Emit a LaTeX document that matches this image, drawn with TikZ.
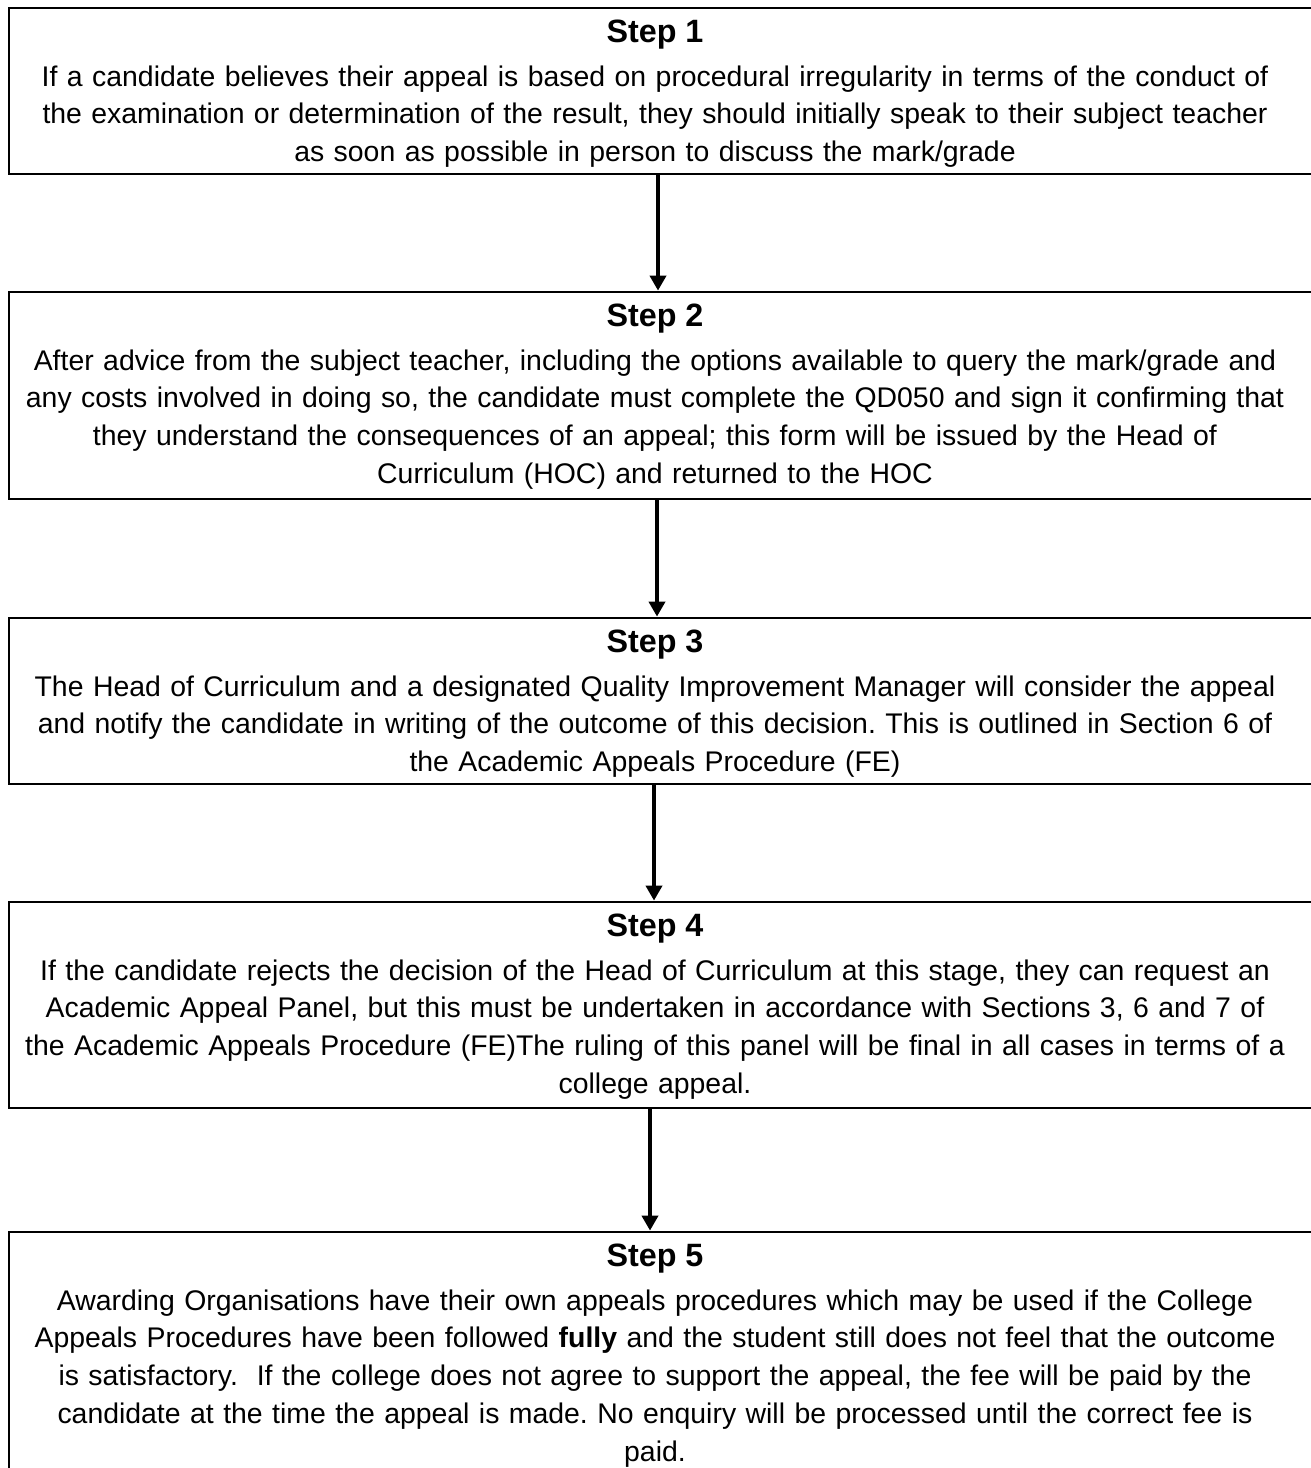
\documentclass[tikz,border=0pt]{standalone}
\usepackage{fontspec}
\setmainfont{Liberation Sans}
\usetikzlibrary{arrows.meta}
\newcommand\bodyfnt{\fontsize{28.4}{37.8}\selectfont\frenchspacing}
\newcommand\titlefnt{\fontsize{32.3}{40}\selectfont\bfseries}
\begin{document}
\begin{tikzpicture}[x=1pt,y=-1pt,
 box/.style={draw, line width=2.6pt, anchor=north west, inner sep=0pt, outer sep=0pt, minimum width=1310pt},
 ttl/.style={font=\titlefnt, anchor=base, inner sep=0pt},
 body/.style={font=\bodyfnt, text width=1300pt, align=center, anchor=base, inner sep=0pt},
 arr/.style={line width=4pt, shorten >=1.4pt, -{Triangle[width=16pt,length=15pt]}}]
\useasboundingbox (0,0) rectangle (1310,1468);
% boxes
\node[box, minimum height=166pt] (b1) at (9,8) {};
\node[box, minimum height=207pt] (b2) at (9,292) {};
\node[box, minimum height=166pt] (b3) at (9,618) {};
\node[box, minimum height=206pt] (b4) at (9,902) {};
\node[box, minimum height=260pt] (b5) at (9,1232) {};
% titles
\node[ttl] (t1) at (655,42) {Step 1};
\node[ttl] (t2) at (655,326) {Step 2};
\node[ttl] (t3) at (655,652) {Step 3};
\node[ttl] (t4) at (655,936) {Step 4};
\node[ttl] (t5) at (655,1266) {Step 5};
% bodies
\node[body] (x1) at (655,86) {If a candidate believes their appeal is based on procedural irregularity in terms of the conduct of\\
the examination or determination of the result, they should initially speak to their subject teacher\\
as soon as possible in person to discuss the mark/grade};
\node[body] (x2) at (655,370) {After advice from the subject teacher, including the options available to query the mark/grade and\\
any costs involved in doing so, the candidate must complete the QD050 and sign it confirming that\\
they understand the consequences of an appeal; this form will be issued by the Head of\\
Curriculum (HOC) and returned to the HOC};
\node[body] (x3) at (655,696) {The Head of Curriculum and a designated Quality Improvement Manager will consider the appeal\\
and notify the candidate in writing of the outcome of this decision. This is outlined in Section 6 of\\
the Academic Appeals Procedure (FE)};
\node[body] (x4) at (655,980) {If the candidate rejects the decision of the Head of Curriculum at this stage, they can request an\\
Academic Appeal Panel, but this must be undertaken in accordance with Sections 3, 6 and 7 of\\
the Academic Appeals Procedure (FE)The ruling of this panel will be final in all cases in terms of a\\
college appeal.};
\node[body] (x5) at (655,1310) {Awarding Organisations have their own appeals procedures which may be used if the College\\
Appeals Procedures have been followed \textbf{fully} and the student still does not feel that the outcome\\
is satisfactory.\ \ If the college does not agree to support the appeal, the fee will be paid by the\\
candidate at the time the appeal is made. No enquiry will be processed until the correct fee is\\
paid.};
% arrows
\draw[arr] ([xshift=-6pt]b1.south) -- ([xshift=-6pt]b2.north);
\draw[arr] ([xshift=-7pt]b2.south) -- ([xshift=-7pt]b3.north);
\draw[arr] ([xshift=-10pt]b3.south) -- ([xshift=-10pt]b4.north);
\draw[arr] ([xshift=-14pt]b4.south) -- ([xshift=-14pt]b5.north);
\end{tikzpicture}
\end{document}
